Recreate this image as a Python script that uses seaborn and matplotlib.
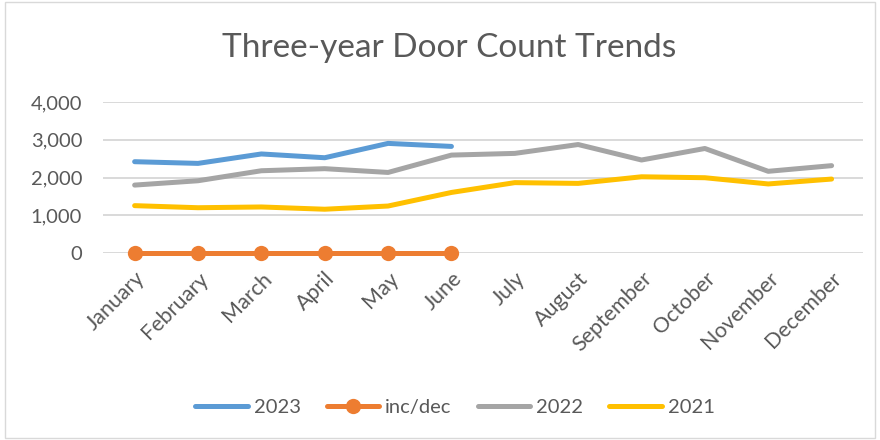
import numpy as np
import pandas as pd
import matplotlib
matplotlib.use("Agg")
import matplotlib.pyplot as plt
import seaborn as sns
from matplotlib.patches import Rectangle

months = ["January", "February", "March", "April", "May", "June",
          "July", "August", "September", "October", "November", "December"]

y2023 = [2420, 2375, 2625, 2525, 2905, 2825]
incdec = [0, 0, 0, 0, 0, 0]
y2022 = [1800, 1915, 2180, 2235, 2135, 2595, 2640, 2875, 2465, 2770, 2165, 2315]
y2021 = [1255, 1200, 1220, 1160, 1245, 1605, 1865, 1845, 2020, 1995, 1830, 1960]

series = [
    ("2023", y2023, "#5B9BD5", None),
    ("inc/dec", incdec, "#ED7D31", "o"),
    ("2022", y2022, "#A5A5A5", None),
    ("2021", y2021, "#FFC000", None),
]

sns.set_theme(style="white")
plt.rcParams["font.family"] = ["Lato", "DejaVu Sans"]

fig = plt.figure(figsize=(8.8, 4.4), dpi=100)
ax = fig.add_axes([0.117, 0.425, 0.864, 0.343])

for name, vals, col, mk in series:
    x = np.arange(len(vals))
    sns.lineplot(x=x, y=vals, ax=ax, color=col, linewidth=3.6, label=name,
                 marker=mk, markersize=11, markeredgewidth=0,
                 solid_capstyle="round", clip_on=False)

ax.set_xlim(-0.5, 11.5)
ax.set_ylim(0, 4000)
ax.set_yticks([0, 1000, 2000, 3000, 4000])
ax.set_yticklabels([f"{v:,}" for v in [0, 1000, 2000, 3000, 4000]])
ax.set_xticks(np.arange(len(months)))
ax.set_xticklabels(months, rotation=45, ha="right", rotation_mode="anchor")
ax.grid(axis="y", color="#D9D9D9", linewidth=1.4)
ax.set_axisbelow(True)
for s in ax.spines.values():
    s.set_visible(False)
ax.tick_params(axis="y", length=0, pad=15, labelsize=14.5, labelcolor="#595959")
ax.tick_params(axis="x", length=0, pad=11, labelsize=15.5, labelcolor="#595959")

fig.text(0.51, 0.89, "Three-year Door Count Trends", ha="center", va="center",
         fontsize=24, color="#595959")

leg = ax.legend(loc="center", bbox_to_anchor=(0.517, 0.075), bbox_transform=fig.transFigure,
                ncol=4, frameon=False, fontsize=14.5, handlelength=2.6,
                columnspacing=1.3, handletextpad=0.3)
for t in leg.get_texts():
    t.set_color("#595959")

fig.patches.append(Rectangle((0.006, 0.005), 0.988, 0.99, transform=fig.transFigure,
                             fill=False, edgecolor="#D9D9D9", linewidth=1))

fig.savefig("out.png", dpi=100)
